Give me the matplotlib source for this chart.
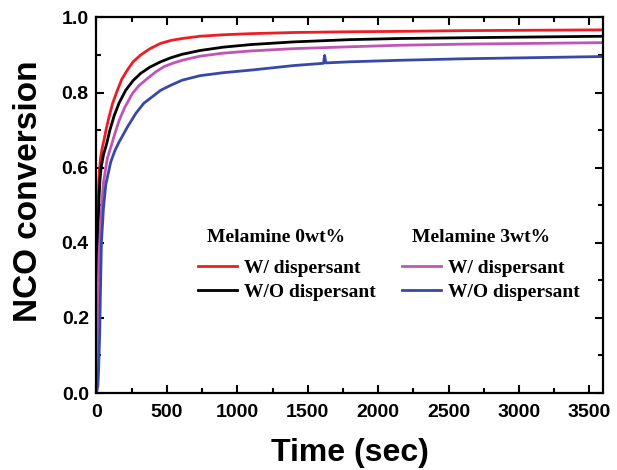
import matplotlib
matplotlib.use("Agg")
import matplotlib.pyplot as plt
from matplotlib.ticker import MultipleLocator

# Data (time in sec, NCO conversion)
t_red = [0, 3, 6, 10, 15, 20, 30, 42, 54, 70, 89, 115, 148, 180, 219, 260, 313, 380, 455,
         530, 608, 734, 900, 1100, 1400, 1800, 2150, 2600, 3100, 3590]
v_red = [0.0, 0.20, 0.36, 0.47, 0.55, 0.59, 0.63, 0.655, 0.675, 0.705, 0.735, 0.772, 0.806,
         0.836, 0.860, 0.882, 0.900, 0.917, 0.931, 0.939, 0.944, 0.950, 0.954, 0.957, 0.960,
         0.962, 0.963, 0.965, 0.966, 0.967]

t_black = [0, 4, 8, 12, 18, 25, 35, 50, 73, 95, 125, 160, 207, 260, 313, 380, 455, 530, 608,
           734, 900, 1100, 1400, 1800, 2150, 2600, 3100, 3590]
v_black = [0.0, 0.18, 0.33, 0.44, 0.52, 0.57, 0.605, 0.635, 0.665, 0.70, 0.738, 0.772, 0.806,
           0.832, 0.851, 0.868, 0.882, 0.893, 0.902, 0.912, 0.921, 0.928, 0.935, 0.941, 0.944,
           0.946, 0.948, 0.950]

t_mag = [0, 6, 12, 18, 27, 35, 49, 77, 106, 130, 160, 200, 254, 300, 360, 420, 479, 540, 608,
         734, 900, 1100, 1400, 1800, 2150, 2600, 3100, 3590]
v_mag = [0.0, 0.15, 0.28, 0.37, 0.43, 0.49, 0.56, 0.625, 0.66, 0.69, 0.725, 0.76, 0.797, 0.818,
         0.837, 0.855, 0.869, 0.878, 0.886, 0.897, 0.905, 0.911, 0.917, 0.922, 0.926, 0.929,
         0.931, 0.933]

t_blue = [0, 10, 15, 18, 23, 28, 35, 49, 66, 101, 130, 160, 219, 280, 337, 400, 455, 530, 608,
          734, 900, 1100, 1400, 1612, 1620, 1628, 1800, 2150, 2600, 3100, 3590]
v_blue = [0.0, 0.02, 0.06, 0.10, 0.16, 0.27, 0.40, 0.49, 0.555, 0.615, 0.645, 0.668, 0.708,
          0.745, 0.772, 0.790, 0.806, 0.820, 0.833, 0.845, 0.853, 0.860, 0.872, 0.878, 0.899,
          0.879, 0.882, 0.886, 0.890, 0.893, 0.896]

labels = ["W/ dispersant", "W/O dispersant"]
group_titles = ["Melamine 0wt%", "Melamine 3wt%"]

fig = plt.figure(figsize=(6.17, 4.70), dpi=100)
ax = fig.add_axes([0.1564, 0.1638, 0.8217, 0.7990])

lw = 2.0
l_red, = ax.plot(t_red, v_red, color="#ee1c24", lw=lw)
l_black, = ax.plot(t_black, v_black, color="#000000", lw=lw)
l_mag, = ax.plot(t_mag, v_mag, color="#c155b5", lw=lw)
l_blue, = ax.plot(t_blue, v_blue, color="#3848a8", lw=lw)

ax.set_xlim(0, 3600)
ax.set_ylim(0, 1.0)
ax.xaxis.set_major_locator(MultipleLocator(500))
ax.xaxis.set_minor_locator(MultipleLocator(250))
ax.yaxis.set_major_locator(MultipleLocator(0.2))
ax.yaxis.set_minor_locator(MultipleLocator(0.1))
ax.tick_params(which="both", direction="in", top=True, right=True, width=1.5)
ax.tick_params(which="major", length=6)
ax.tick_params(which="minor", length=3.5)
for s in ax.spines.values():
    s.set_linewidth(1.6)

for lab in ax.get_xticklabels() + ax.get_yticklabels():
    lab.set_fontfamily("Liberation Sans")
    lab.set_fontweight("bold")
    lab.set_fontsize(14)
ax.tick_params(axis="x", pad=8)
ax.tick_params(axis="y", pad=5.5)

ax.set_xlabel("Time (sec)", fontfamily="Liberation Sans", fontweight="bold", fontsize=23, labelpad=12)
ax.set_ylabel("NCO conversion", fontfamily="Liberation Sans", fontweight="bold", fontsize=24,
              labelpad=13, y=0.538)

lprops = dict(family="Liberation Serif", weight="bold", size=14)
ax.text(0.218, 0.415, group_titles[0], transform=ax.transAxes, ha="left", va="center", **lprops)
ax.text(0.622, 0.415, group_titles[1], transform=ax.transAxes, ha="left", va="center", **lprops)

common = dict(loc="upper left", frameon=False, prop=lprops, handlelength=2.0,
              handletextpad=0.35, labelspacing=0.33, borderpad=0, borderaxespad=0)
leg1 = ax.legend([l_red, l_black], labels, bbox_to_anchor=(0.200, 0.356), **common)
ax.add_artist(leg1)
leg2 = ax.legend([l_mag, l_blue], labels, bbox_to_anchor=(0.6026, 0.356), **common)

fig.savefig("out.png", dpi=100)
